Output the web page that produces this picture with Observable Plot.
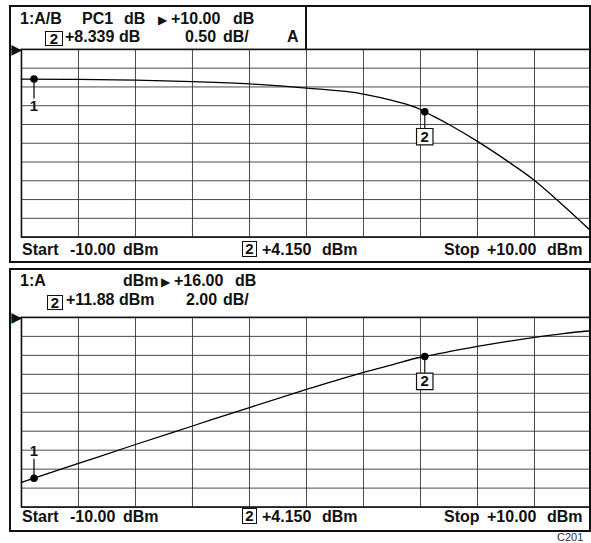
<!DOCTYPE html>
<html><head><meta charset="utf-8">
<script src="https://cdn.jsdelivr.net/npm/d3@7"></script>
<script src="https://cdn.jsdelivr.net/npm/@observablehq/plot@0.6"></script>
<style>
body{margin:0;background:#fff;}
#wrap{position:relative;width:591px;height:543px;overflow:hidden;font-family:"Liberation Sans",Arial,sans-serif;color:#111;background:#fff;}
.t{position:absolute;font-weight:bold;white-space:nowrap;z-index:3;}
.bx{position:absolute;border:1.3px solid #111;box-sizing:border-box;z-index:3;text-align:center;font-weight:bold;background:#fff;}
.ob{position:absolute;border:2px solid #111;box-sizing:border-box;z-index:2;}
.ln{position:absolute;background:#111;z-index:2;}
.plot{position:absolute;left:0;z-index:1;}
</style></head>
<body><div id="wrap"></div>
<script>
// ---- data ----
const stimulus = [-10, -8, -6, -4, -2, 0, 2, 3, 4, 4.15, 5, 6, 7, 8, 9, 10];          // dBm (power sweep)
const ratioDb  = [9.21, 9.20, 9.18, 9.14, 9.08, 8.97, 8.81, 8.64, 8.40, 8.339, 8.0, 7.55, 7.05, 6.51, 5.85, 5.15]; // 1:A/B, dB
const inputA   = [-1.4, 0.6, 2.6, 4.55, 6.5, 8.4, 10.2, 11.0, 11.8, 11.88, 12.4, 12.95, 13.45, 13.9, 14.3, 14.6]; // 1:A, dBm

const markerNames = ["1", "2"];
const markerStim  = [-9.56, 4.15];
const markerRatio = [9.21, 8.339];
const markerA     = [-0.96, 11.88];

const xGrid      = [-10, -8, -6, -4, -2, 0, 2, 4, 6, 8, 10];
const topYGrid   = [5, 5.5, 6, 6.5, 7, 7.5, 8, 8.5, 9, 9.5, 10];
const botYGrid   = [-4, -2, 0, 2, 4, 6, 8, 10, 12, 14, 16];
const topRef = 10, botRef = 16;

const topHeader1 = ["1:A/B", "PC1", "dB", "▶", "+10.00", "dB"];
const topHeader2 = ["2", "+8.339", "dB", "0.50", "dB/", "A"];
const botHeader1 = ["1:A", "dBm", "▶", "+16.00", "dB"];
const botHeader2 = ["2", "+11.88", "dBm", "2.00", "dB/"];
const footer     = ["Start", "-10.00", "dBm", "2", "+4.150", "dBm", "Stop", "+10.00", "dBm"];
const figId = "C201";

// ---- drawing ----
const wrap = document.getElementById("wrap");
const FS = 16;
function txt(s, x, base, size = FS, weight = "bold", color = "#111") {
  const d = document.createElement("div");
  d.className = "t"; d.textContent = s;
  d.style.left = x + "px"; d.style.top = (base - 0.8465 * size) + "px";
  d.style.fontSize = size + "px"; d.style.lineHeight = size + "px";
  d.style.fontWeight = weight; d.style.color = color;
  wrap.appendChild(d);
}
function tri(x, base, size = 12) {
  const d = document.createElement("div");
  d.className = "t"; d.textContent = "▶";
  d.style.fontFamily = "DejaVu Sans"; d.style.fontWeight = "normal";
  d.style.left = x + "px"; d.style.top = (base - 0.8465 * size - 0.5) + "px";
  d.style.fontSize = size + "px"; d.style.lineHeight = size + "px";
  wrap.appendChild(d);
}
function box(s, x, y, w, h) {
  const d = document.createElement("div");
  d.className = "bx"; d.textContent = s;
  d.style.left = x + "px"; d.style.top = y + "px";
  d.style.width = w + "px"; d.style.height = h + "px";
  d.style.fontSize = "15px"; d.style.lineHeight = (h - 2) + "px";
  wrap.appendChild(d);
}
function div(cls, x, y, w, h) {
  const d = document.createElement("div");
  d.className = cls;
  d.style.left = x + "px"; d.style.top = y + "px";
  d.style.width = w + "px"; d.style.height = h + "px";
  wrap.appendChild(d);
}

function panel(values, mVals, yDomain, yGrid, ref, m1Above, height, mb) {
  const rows = stimulus.map((s, i) => ({x: s, y: values[i]}));
  const mk = markerNames.map((n, i) => ({name: n, x: markerStim[i], y: mVals[i]}));
  const m1 = mk.filter(d => d.name === "1");
  const m2 = mk.filter(d => d.name === "2");
  const gridStyle = {stroke: "#2b2b2b", strokeWidth: 1, strokeOpacity: 0.85};
  return Plot.plot({
    width: 592, height, marginTop: 49, marginBottom: mb, marginLeft: 21, marginRight: 0,
    style: {background: "transparent", overflow: "visible"},
    x: {domain: [-10, 10], axis: null},
    y: {domain: yDomain, axis: null},
    marks: [
      Plot.ruleX(xGrid, gridStyle),
      Plot.ruleY(yGrid, gridStyle),
      Plot.frame({stroke: "#111", strokeWidth: 1.6}),
      Plot.text([ref], {y: d => d, frameAnchor: "left", textAnchor: "end", text: () => "▶",
        fontSize: 14, fontFamily: "DejaVu Sans", fill: "#111", dx: 0.5}),
      Plot.line(rows, {x: "x", y: "y", curve: "monotone-x", stroke: "#000", strokeWidth: 1.3}),
      // marker 1 connector + label
      m1Above
        ? Plot.ruleX(m1, {x: "x", y1: "y", y2: "y", insetTop: -19, stroke: "#111", strokeWidth: 1.3})
        : Plot.ruleX(m1, {x: "x", y1: "y", y2: "y", insetBottom: -20, stroke: "#111", strokeWidth: 1.3}),
      Plot.text(m1, {x: "x", y: "y", text: "name", dy: m1Above ? -27 : 27, fontSize: 15, fontWeight: "bold",
        fontFamily: "Liberation Sans", fill: "#111"}),
      // marker 2 connector + boxed label
      Plot.ruleX(m2, {x: "x", y1: "y", y2: "y", insetBottom: -17, stroke: "#111", strokeWidth: 1.2}),
      Plot.dot(m2, {x: "x", y: "y", symbol: "square", r: 9.3, dy: 25, fill: "white", stroke: "#111", strokeWidth: 1.2}),
      Plot.text(m2, {x: "x", y: "y", text: "name", dy: 25, fontSize: 15, fontWeight: "bold",
        fontFamily: "Liberation Sans", fill: "#111"}),
      Plot.dot(mk, {x: "x", y: "y", r: 3.8, fill: "#000"})
    ]
  });
}

const topPlot = panel(ratioDb, markerRatio, [5, 10], topYGrid, topRef, false, 262, 25);
topPlot.classList.add("plot"); topPlot.style.top = "0px";
wrap.appendChild(topPlot);
const botPlot = panel(inputA, markerA, [-4, 16], botYGrid, botRef, true, 263, 24);
botPlot.classList.add("plot"); botPlot.style.top = "268px";
wrap.appendChild(botPlot);

// panel outlines
div("ob", 9, 5, 582, 258);
div("ln", 305, 5, 1.6, 44);
div("ln", 9, 48.5, 12, 1.5);
div("ob", 9, 268, 582, 264);
div("ln", 9, 316.5, 12, 1.5);

// top header
txt(topHeader1[0], 20, 25); txt(topHeader1[1], 82, 25); txt(topHeader1[2], 124, 25);
tri(158, 25); txt(topHeader1[4], 171, 25); txt(topHeader1[5], 233, 25);
box(topHeader2[0], 45, 31, 18, 15);
txt(topHeader2[1], 65, 43); txt(topHeader2[2], 119, 43);
txt(topHeader2[3], 185, 43); txt(topHeader2[4], 223, 43); txt(topHeader2[5], 287, 43);

// bottom header
txt(botHeader1[0], 20, 287); txt(botHeader1[1], 123, 287);
tri(161, 287); txt(botHeader1[3], 174, 287); txt(botHeader1[4], 235, 287);
box(botHeader2[0], 47, 295, 16, 15);
txt(botHeader2[1], 66, 306); txt(botHeader2[2], 119, 306);
txt(botHeader2[3], 186, 306); txt(botHeader2[4], 223, 306);

// footers
function foot(base, boxTop) {
  txt(footer[0], 22, base); txt(footer[1], 70, base); txt(footer[2], 123, base);
  box(footer[3], 242, boxTop, 15, 16);
  txt(footer[4], 262, base); txt(footer[5], 322, base);
  txt(footer[6], 444, base); txt(footer[7], 487, base); txt(footer[8], 547, base);
}
foot(256, 241);
foot(523, 508);
txt(figId, 557, 541, 11, "normal", "#333");
</script>
</body></html>
